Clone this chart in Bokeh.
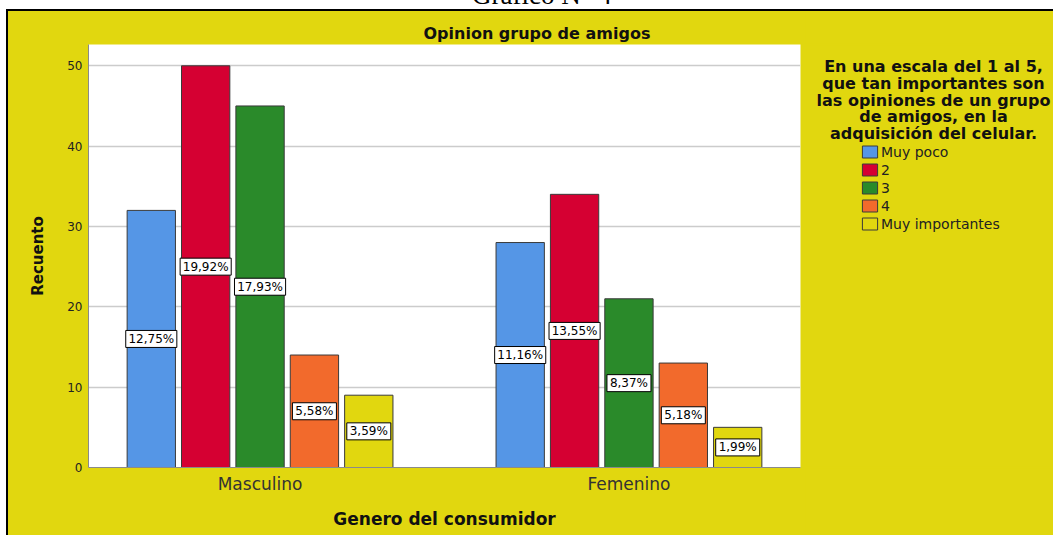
from bokeh.plotting import figure
from bokeh.layouts import row, column
from bokeh.models import (ColumnDataSource, Range1d, FixedTicker, Label,
                          Legend, LegendItem, Div)
from bokeh.transform import dodge
from bokeh.core.properties import value
from bokeh.embed import file_html
from bokeh.resources import INLINE

# ---------------- data ----------------
groups = ["Masculino", "Femenino"]
levels = ["Muy poco", "2", "3", "4", "Muy importantes"]
muy_poco = [32, 28]
nivel_2 = [50, 34]
nivel_3 = [45, 21]
nivel_4 = [14, 13]
muy_importantes = [9, 5]
pct_muy_poco = ["12,75%", "11,16%"]
pct_nivel_2 = ["19,92%", "13,55%"]
pct_nivel_3 = ["17,93%", "8,37%"]
pct_nivel_4 = ["5,58%", "5,18%"]
pct_muy_importantes = ["3,59%", "1,99%"]
y_ticks = [0, 10, 20, 30, 40, 50]
caption = "Gráfico N° 4"
chart_title = "Opinion grupo de amigos"
legend_title = ["En una escala del 1 al 5,", "que tan importantes son",
                "las opiniones de un grupo", "de amigos, en la",
                "adquisición del celular."]
x_title = "Genero del consumidor"
y_title = "Recuento"

series = [muy_poco, nivel_2, nivel_3, nivel_4, muy_importantes]
pcts = [pct_muy_poco, pct_nivel_2, pct_nivel_3, pct_nivel_4, pct_muy_importantes]
colors = ["#5596E6", "#D50032", "#2A8A2A", "#F26A2C", "#E1D70F"]

YELLOW = "#E1D70F"
FONT = "DejaVu Sans"
EDGE = "#3a3a3a"

# ---------------- main chart ----------------
p = figure(frame_width=712, frame_height=423,
           min_border_left=80, min_border_right=5,
           min_border_top=33, min_border_bottom=68,
           x_range=Range1d(-0.465, 1.465), y_range=Range1d(0, 52.65),
           output_backend="svg", toolbar_location=None)
p.border_fill_color = YELLOW
p.background_fill_color = "white"
p.outline_line_color = None

p.title.text = chart_title
p.title.align = "left"
p.title.offset = 335
p.title.vertical_align = "bottom"
p.title.standoff = 3
p.title.text_font = FONT
p.title.text_font_style = "bold"
p.title.text_font_size = "16px"
p.title.text_color = "#111111"

gidx = list(range(len(groups)))
step = 0.1474
bw = 0.131
sources = []
for i, (vals, pc, col) in enumerate(zip(series, pcts, colors)):
    src = ColumnDataSource(dict(g=gidx, v=vals, half=[v / 2 for v in vals], t=pc,
                                bw=[len(s) * 7.1 + 8.5 for s in pc]))
    sources.append(src)
    off = (i - 2) * step
    p.vbar(x=dodge("g", off), top="v", bottom=0, width=bw, source=src,
           fill_color=col, line_color=EDGE, line_width=1)
    p.rect(x=dodge("g", off), y="half", width="bw", height=17,
           width_units="screen", height_units="screen", source=src,
           fill_color="white", line_color="black", line_width=1)
    p.text(x=dodge("g", off), y="half", text="t", source=src,
           text_align="center", text_baseline="middle",
           text_font=value(FONT), text_font_size="12px", text_color="black")

# axes
p.xgrid.grid_line_color = None
p.ygrid.grid_line_color = "#cccccc"
p.ygrid.grid_line_width = 1.5
p.ygrid.ticker = FixedTicker(ticks=y_ticks)

p.yaxis.ticker = FixedTicker(ticks=y_ticks)
p.yaxis.major_tick_out = 0
p.yaxis.major_tick_in = 0
p.yaxis.minor_tick_out = 0
p.yaxis.minor_tick_in = 0
p.yaxis.axis_line_color = "#8a8a8a"
p.yaxis.major_label_text_font = FONT
p.yaxis.major_label_text_font_size = "12px"
p.yaxis.major_label_text_color = "#222222"
p.yaxis.major_label_standoff = 6
p.yaxis.axis_label = y_title
p.yaxis.axis_label_text_font = FONT
p.yaxis.axis_label_text_font_style = "bold"
p.yaxis.axis_label_text_font_size = "15px"
p.yaxis.axis_label_text_color = "#111111"
p.yaxis.axis_label_standoff = 17

p.xaxis.ticker = FixedTicker(ticks=gidx)
p.xaxis.major_label_overrides = {i: g for i, g in zip(gidx, groups)}
p.xaxis.major_tick_out = 0
p.xaxis.major_tick_in = 0
p.xaxis.minor_tick_out = 0
p.xaxis.minor_tick_in = 0
p.xaxis.axis_line_color = "#8a8a8a"
p.xaxis.major_label_text_font = FONT
p.xaxis.major_label_text_font_size = "17px"
p.xaxis.major_label_text_color = "#333333"
p.xaxis.major_label_standoff = 6
p.xaxis.axis_label = x_title
p.xaxis.axis_label_text_font = FONT
p.xaxis.axis_label_text_font_style = "bold"
p.xaxis.axis_label_text_font_size = "17px"
p.xaxis.axis_label_text_color = "#111111"
p.xaxis.axis_label_standoff = 12

# ---------------- legend panel ----------------
q = figure(frame_width=248, frame_height=423,
           min_border_left=0, min_border_right=0,
           min_border_top=33, min_border_bottom=68,
           x_range=Range1d(1000, 1248), y_range=Range1d(0, 423),
           x_axis_type=None, y_axis_type=None,
           output_backend="svg", toolbar_location=None)
q.border_fill_color = YELLOW
q.background_fill_color = YELLOW
q.outline_line_color = YELLOW
q.outline_line_width = 2
q.xgrid.grid_line_color = None
q.ygrid.grid_line_color = None

for k, line in enumerate(legend_title):
    q.add_layout(Label(x=128, y=401 - 16.8 * k, x_units="screen", y_units="screen",
                       text=line, text_align="center", text_baseline="alphabetic",
                       text_font=FONT, text_font_style="bold",
                       text_font_size="16px", text_color="#111111"))

# legend swatches: same series, hidden renderers (only their legend glyph is shown)
swatches = [q.vbar(x="g", top="v", width=bw, source=s, fill_color=c,
                   line_color=EDGE, line_width=1, visible=False)
            for s, c in zip(sources, colors)]
legend = Legend(items=[LegendItem(label=lv, renderers=[r]) for lv, r in zip(levels, swatches)],
                location=(55, 235), orientation="vertical", padding=0, margin=0,
                spacing=1, glyph_width=19, glyph_height=15, label_height=17,
                label_standoff=2, label_text_font=FONT, label_text_font_size="14px",
                label_text_color="#222222", background_fill_alpha=0,
                border_line_color=None, click_policy="none")
q.add_layout(legend)

charts = row(p, q)
charts.styles = {"margin-left": "6px", "background-color": YELLOW,
                 "border-left": "2px solid black", "border-top": "2px solid black"}

cap = Div(text=('<div style="position:absolute;left:472px;top:-18px;'
                'font-family:\'Liberation Serif\';font-size:27px;line-height:27px;'
                'white-space:nowrap;color:#000;">' + caption + '</div>'),
          width=1053, height=9, margin=0,
          styles={"overflow": "hidden", "position": "relative"})

layout = column(cap, charts)

open("out.html", "w").write(file_html(layout, INLINE))
